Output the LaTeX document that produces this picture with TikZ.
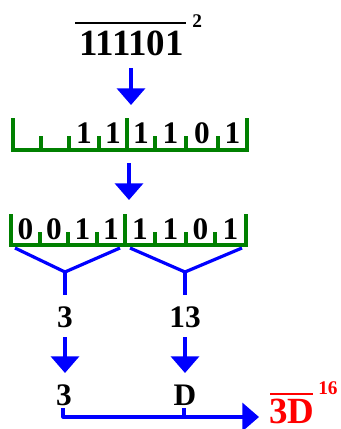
\documentclass[tikz,border=0pt]{standalone}
\usepackage{fontspec}
\setmainfont{Liberation Serif}
\usetikzlibrary{arrows.meta}
\definecolor{darkgrn}{RGB}{0,128,0}
\begin{document}
\begin{tikzpicture}[x=0.75pt,y=-0.75pt,
 big/.style={font=\fontsize{27.7}{30}\selectfont\bfseries, inner sep=0, anchor=base},
 dig/.style={font=\fontsize{23.5}{26}\selectfont\bfseries, inner sep=0, anchor=base},
 supr/.style={font=\fontsize{14.5}{16}\selectfont\bfseries, inner sep=0, anchor=base west},
 barr/.style={draw=blue, line width=2.6pt, -{Triangle[width=21pt,length=12.5pt]}},
 grnline/.style={draw=darkgrn, line width=2.4pt},
 brace/.style={draw=blue, line width=2.4pt, line join=round}]
\useasboundingbox (0,0) rectangle (340,429);

% top number
\node[big] (n0) at (131.5,55) {111101};
\draw[line width=1.6pt] (75,23) -- (186,23);
\node[supr] (s0) at (192,27) {2};

% arrow 1
\coordinate (a1s) at (131,68);
\coordinate (a1e) at (131,105);
\draw[barr] (a1s) -- (a1e);

% row 1 bracket
\draw[grnline] (13,118) -- (13,150) -- (247,150) -- (247,118);
\draw[grnline] (127,118) -- (127,150);
\foreach \x in {41,69,99,155,186,218} \draw[grnline] (\x,136) -- (\x,150);
\foreach \x/\d [count=\i] in {84/1,113/1,141/1,170.5/1,202/0,232.5/1}
  \node[dig] (r1\i) at (\x,143) {\d};

% arrow 2
\coordinate (a2s) at (129,163);
\coordinate (a2e) at (129,200);
\draw[barr] (a2s) -- (a2e);

% row 2 bracket
\draw[grnline] (11,214) -- (11,245) -- (246,245) -- (246,214);
\draw[grnline] (125,214) -- (125,245);
\foreach \x in {40,68,97,155,186,215} \draw[grnline] (\x,232) -- (\x,245);
\foreach \x/\d [count=\i] in {25.5/0,54/0,82.5/1,111/1,140/1,170.5/1,200.5/0,230.5/1}
  \node[dig] (r2\i) at (\x,239) {\d};

% braces
\coordinate (bl) at (65,272);
\coordinate (br) at (185,272);
\draw[brace] (15,248) -- (bl) -- (120,248);
\draw[brace] (bl) -- (65,295);
\draw[brace] (130,248) -- (br) -- (242,248);
\draw[brace] (br) -- (185,295);

% decimal values
\node[dig] (d1) at (65,327) {3};
\node[dig] (d2) at (185,327) {13};

\draw[barr] (d1.south |- 0,337) -- (65,373);
\draw[barr] (d2.south |- 0,337) -- (185,373);

% hex digits
\node[dig] (h1) at (64,405) {3};
\node[dig] (h2) at (185,405) {D};

\coordinate (tip) at (259,417);
\draw[brace] (63,408) -- (63,417) -- (184,417);
\draw[blue, line width=2.4pt] (184,408) -- (184,417);
\draw[barr, line width=2.4pt] (183,417) -- (tip);

% result
\node[big, text=red] (res) at (292,423) {3D};
\draw[red, line width=1.6pt] (270,394) -- (313,394);
\node[supr, text=red] (s1) at (318,394) {16};
\end{tikzpicture}
\end{document}
